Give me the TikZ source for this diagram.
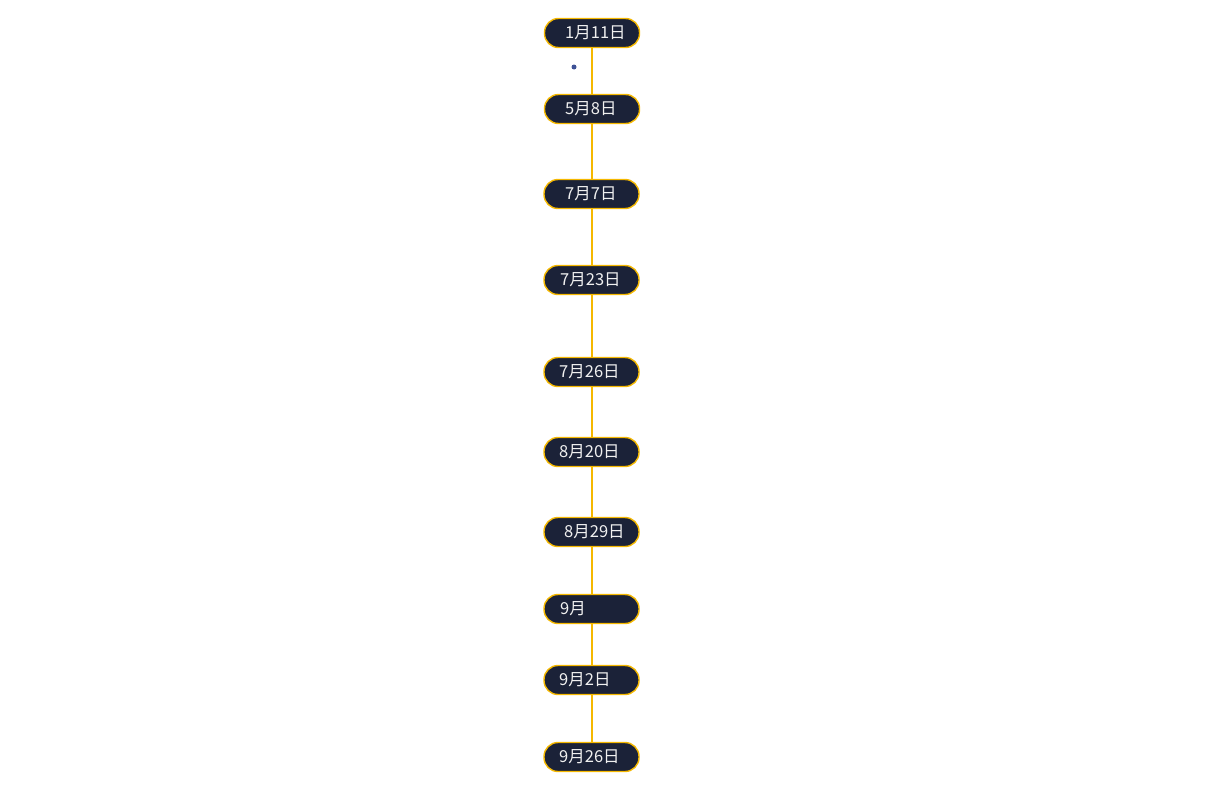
\documentclass[tikz,border=0pt]{standalone}
\usepackage{fontspec}
\newfontfamily\cjk{Noto Sans CJK SC}
\definecolor{navy}{HTML}{1B2238}
\definecolor{gold}{HTML}{F5B800}
\definecolor{dotblue}{HTML}{3E5196}
\tikzset{
  pill/.style={draw=gold, fill=navy, line width=1.4pt, rounded corners=14pt, minimum width=95pt, minimum height=29pt, inner sep=0pt},
  lbl/.style={text=white!88!gray, font=\cjk\fontsize{16.5pt}{16.5pt}\selectfont, anchor=west, inner sep=0pt},
  spine/.style={draw=gold, line width=1.6pt}
}
\begin{document}
\begin{tikzpicture}[x=1pt,y=1pt]
\useasboundingbox (0,0) rectangle (1217,-787);
% spine (behind pills)
\coordinate (top) at (592,-33);
\coordinate (bot) at (592,-757);
\draw[spine] (top) -- (bot);
\node[pill] (n1) at (592,-33) {};
\node[pill] (n2) at (592,-109) {};
\node[pill] (n3) at (591.5,-194) {};
\node[pill] (n4) at (591.5,-280) {};
\node[pill] (n5) at (591.5,-372) {};
\node[pill] (n6) at (591.5,-452) {};
\node[pill] (n7) at (591.5,-532) {};
\node[pill] (n8) at (591.5,-609) {};
\node[pill] (n9) at (591.5,-680) {};
\node[pill] (n10) at (591.5,-757) {};
\node[lbl] (t1) at (565,-33) {1月11日};
\node[lbl] (t2) at (565,-109) {5月8日};
\node[lbl] (t3) at (565,-194) {7月7日};
\node[lbl] (t4) at (560,-280) {7月23日};
\node[lbl] (t5) at (559,-372) {7月26日};
\node[lbl] (t6) at (559,-452) {8月20日};
\node[lbl] (t7) at (564,-532) {8月29日};
\node[lbl] (t8) at (560,-609) {9月};
\node[lbl] (t9) at (559,-680) {9月2日};
\node[lbl] (t10) at (559,-757) {9月26日};
\fill[dotblue] (574,-67) circle (2.5pt);
\end{tikzpicture}
\end{document}
